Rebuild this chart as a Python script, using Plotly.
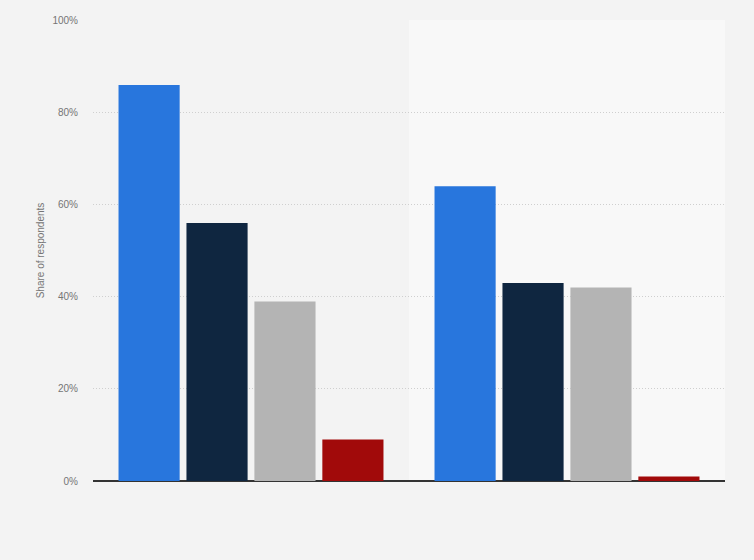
import plotly.graph_objects as go

categories = ["Group A", "Group B"]
series_names = ["Series 1", "Series 2", "Series 3", "Series 4"]
series_values = [
    [86, 64],
    [56, 43],
    [39, 42],
    [9, 1],
]
colors = ["#2876dd", "#0f2640", "#b4b4b4", "#a10a0a"]
tick_vals = [0, 20, 40, 60, 80, 100]
tick_text = ["0%", "20%", "40%", "60%", "80%", "100%"]

fig = go.Figure()
for name, vals, c in zip(series_names, series_values, colors):
    fig.add_trace(go.Bar(x=categories, y=vals, name=name, marker=dict(color=c, line=dict(width=0))))

fig.add_shape(type="rect", xref="x", yref="paper", x0=0.5, x1=1.5, y0=0, y1=1,
              fillcolor="#f8f8f8", line=dict(width=0), layer="below")

fig.update_layout(
    width=754, height=560,
    margin=dict(l=93, r=29, t=20, b=79),
    paper_bgcolor="#f3f3f3", plot_bgcolor="#f3f3f3",
    barmode="group", bargap=0.14, bargroupgap=0.1,
    showlegend=False,
    font=dict(family="Liberation Sans, Arial, sans-serif", color="#757575", size=10),
    xaxis=dict(showticklabels=False, showgrid=False, zeroline=False, showline=False,
               range=[-0.5, 1.5]),
    yaxis=dict(range=[0, 100.1], tickvals=tick_vals, ticktext=tick_text,
               showgrid=True, gridcolor="#cfcfcf", griddash="1px,2px", gridwidth=1,
               zeroline=True, zerolinecolor="#333333", zerolinewidth=1.5,
               ticklabelstandoff=14, tickfont=dict(size=10, color="#757575"),
               title=dict(text="Share of respondents", standoff=5,
                          font=dict(size=10, color="#757575"))),
)

fig.write_html("out.html", config={"displayModeBar": False},
               post_script="document.body.style.margin='0';document.body.style.background='#f3f3f3';")
